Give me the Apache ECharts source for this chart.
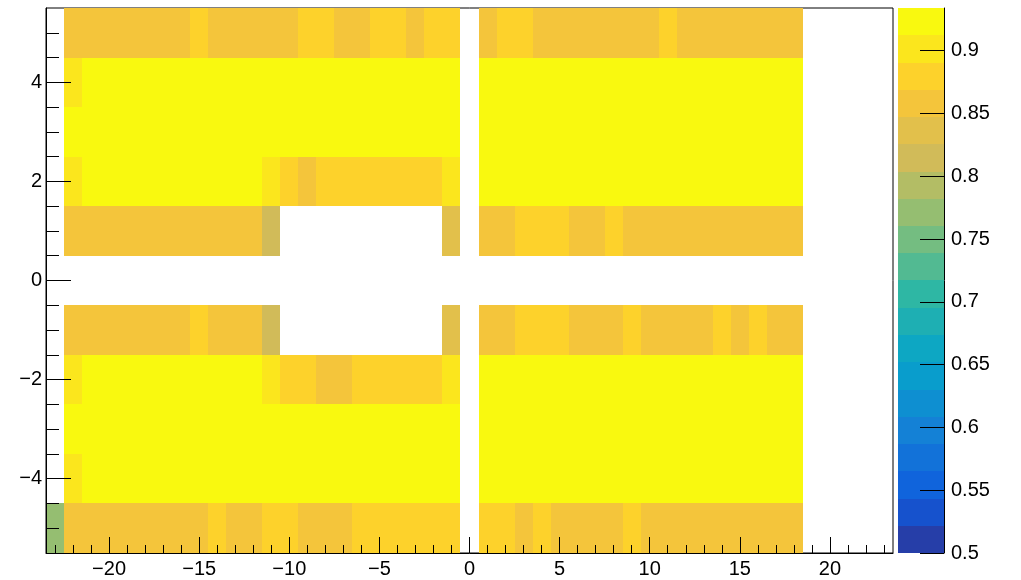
<!DOCTYPE html>
<html>
<head>
<meta charset="utf-8">
<script src="https://cdn.jsdelivr.net/npm/echarts@6/dist/echarts.min.js"></script>
<style>
html, body { margin: 0; padding: 0; background: #ffffff; }
#chart { width: 1021px; height: 580px; }
</style>
</head>
<body>
<div id="chart"></div>
<script>
// Bin contents, one array per y bin (bin width 1).
// Entry i is the bin centred on x = X_FIRST + i; null marks an empty bin.
const X_FIRST = -23;

const ROW_P5 = [
  null, 0.858, 0.858, 0.858, 0.858, 0.858, 0.858, 0.858, 0.880, 0.858, 0.858, 0.858, 0.858, 0.858,
  0.880, 0.880, 0.858, 0.858, 0.880, 0.880, 0.858, 0.880, 0.880,
  null, 0.858, 0.880, 0.880, 0.858, 0.858, 0.858, 0.858, 0.858, 0.858, 0.858, 0.880,
  0.858, 0.858, 0.858, 0.858, 0.858, 0.858, 0.858
];
const ROW_P4 = [
  null, 0.902, 0.925, 0.925, 0.925, 0.925, 0.925, 0.925, 0.925, 0.925, 0.925, 0.925, 0.925, 0.925,
  0.925, 0.925, 0.925, 0.925, 0.925, 0.925, 0.925, 0.925, 0.925,
  null, 0.925, 0.925, 0.925, 0.925, 0.925, 0.925, 0.925, 0.925, 0.925, 0.925, 0.925,
  0.925, 0.925, 0.925, 0.925, 0.925, 0.925, 0.925
];
const ROW_P3 = [
  null, 0.925, 0.925, 0.925, 0.925, 0.925, 0.925, 0.925, 0.925, 0.925, 0.925, 0.925, 0.925, 0.925,
  0.925, 0.925, 0.925, 0.925, 0.925, 0.925, 0.925, 0.925, 0.925,
  null, 0.925, 0.925, 0.925, 0.925, 0.925, 0.925, 0.925, 0.925, 0.925, 0.925, 0.925,
  0.925, 0.925, 0.925, 0.925, 0.925, 0.925, 0.925
];
const ROW_P2 = [
  null, 0.902, 0.925, 0.925, 0.925, 0.925, 0.925, 0.925, 0.925, 0.925, 0.925, 0.925, 0.902, 0.880,
  0.858, 0.880, 0.880, 0.880, 0.880, 0.880, 0.880, 0.880, 0.902,
  null, 0.925, 0.925, 0.925, 0.925, 0.925, 0.925, 0.925, 0.925, 0.925, 0.925, 0.925,
  0.925, 0.925, 0.925, 0.925, 0.925, 0.925, 0.925
];
const ROW_P1 = [
  null, 0.858, 0.858, 0.858, 0.858, 0.858, 0.858, 0.858, 0.858, 0.858, 0.858, 0.858, 0.815, null,
  null, null, null, null, null, null, null, null, 0.836,
  null, 0.858, 0.858, 0.880, 0.880, 0.880, 0.858, 0.858, 0.880, 0.858, 0.858,
  0.858, 0.858, 0.858, 0.858, 0.858, 0.858, 0.858, 0.858
];
const ROW_M1 = [
  null, 0.858, 0.858, 0.858, 0.858, 0.858, 0.858, 0.858, 0.880, 0.858, 0.858, 0.858, 0.815, null,
  null, null, null, null, null, null, null, null, 0.836,
  null, 0.858, 0.858, 0.880, 0.880, 0.880, 0.858, 0.858, 0.858, 0.880, 0.858,
  0.858, 0.858, 0.858, 0.880, 0.858, 0.880, 0.858, 0.858
];
const ROW_M2 = [
  null, 0.902, 0.925, 0.925, 0.925, 0.925, 0.925, 0.925, 0.925, 0.925, 0.925, 0.925, 0.902, 0.880,
  0.880, 0.858, 0.858, 0.880, 0.880, 0.880, 0.880, 0.880, 0.902,
  null, 0.925, 0.925, 0.925, 0.925, 0.925, 0.925, 0.925, 0.925, 0.925, 0.925, 0.925,
  0.925, 0.925, 0.925, 0.925, 0.925, 0.925, 0.925
];
const ROW_M3 = [
  null, 0.925, 0.925, 0.925, 0.925, 0.925, 0.925, 0.925, 0.925, 0.925, 0.925, 0.925, 0.925, 0.925,
  0.925, 0.925, 0.925, 0.925, 0.925, 0.925, 0.925, 0.925, 0.925,
  null, 0.925, 0.925, 0.925, 0.925, 0.925, 0.925, 0.925, 0.925, 0.925, 0.925, 0.925,
  0.925, 0.925, 0.925, 0.925, 0.925, 0.925, 0.925
];
const ROW_M4 = [
  null, 0.902, 0.925, 0.925, 0.925, 0.925, 0.925, 0.925, 0.925, 0.925, 0.925, 0.925, 0.925, 0.925,
  0.925, 0.925, 0.925, 0.925, 0.925, 0.925, 0.925, 0.925, 0.925,
  null, 0.925, 0.925, 0.925, 0.925, 0.925, 0.925, 0.925, 0.925, 0.925, 0.925, 0.925,
  0.925, 0.925, 0.925, 0.925, 0.925, 0.925, 0.925
];
const ROW_M5 = [
  0.771, 0.858, 0.858, 0.858, 0.858, 0.858, 0.858, 0.858, 0.858, 0.880, 0.858, 0.858, 0.880, 0.880,
  0.858, 0.858, 0.858, 0.880, 0.880, 0.880, 0.880, 0.880, 0.880,
  null, 0.880, 0.880, 0.858, 0.880, 0.858, 0.858, 0.858, 0.858, 0.880, 0.858,
  0.858, 0.858, 0.858, 0.858, 0.858, 0.858, 0.858, 0.858
];

// y bin centre of each row (the y = 0 row holds no entries)
const ROW_Y = [5, 4, 3, 2, 1, -1, -2, -3, -4, -5];
const ROWS = [ROW_P5, ROW_P4, ROW_P3, ROW_P2, ROW_P1, ROW_M1, ROW_M2, ROW_M3, ROW_M4, ROW_M5];

// Axis ranges and tick positions
const X_RANGE = [-23.5, 23.5];
const Y_RANGE = [-5.5, 5.5];
const Z_RANGE = [0.5, 0.934];
const X_TICKS = [-20, -15, -10, -5, 0, 5, 10, 15, 20];
const X_MINOR = [-23, -22, -21, -19, -18, -17, -16, -14, -13, -12, -11, -9, -8, -7, -6, -4, -3, -2, -1,
                 1, 2, 3, 4, 6, 7, 8, 9, 11, 12, 13, 14, 16, 17, 18, 19, 21, 22, 23];
const Y_TICKS = [-4, -2, 0, 2, 4];
const Y_MINOR = [-5, -4.5, -3.5, -3, -2.5, -1.5, -1, -0.5, 0.5, 1, 1.5, 2.5, 3, 3.5, 4.5, 5];
const Z_TICKS = [0.5, 0.55, 0.6, 0.65, 0.7, 0.75, 0.8, 0.85, 0.9];

// Colour scale: 20 equal contour bands from dark blue to yellow
const PALETTE = [
  '#263ea8', '#1652cd', '#1064dc', '#1272d9', '#1481d6', '#0e8fd1', '#099dcc', '#0da7c3',
  '#1eafb3', '#2eb7a4', '#52ba92', '#74bd81', '#95be71', '#b3bd65', '#d1bb59', '#e2c04b',
  '#f4c53b', '#fdd22b', '#fbe61d', '#f9f90f'
];
const N_LEVELS = PALETTE.length;

const cells = [];
ROWS.forEach(function (row, r) {
  row.forEach(function (v, i) {
    if (v !== null) cells.push([X_FIRST + i, ROW_Y[r], v]);
  });
});

const levels = [];
for (let i = 0; i <= N_LEVELS; i++) {
  levels.push(Z_RANGE[0] + (Z_RANGE[1] - Z_RANGE[0]) * i / N_LEVELS);
}
const bands = [];
const pieces = [];
for (let i = 0; i < N_LEVELS; i++) {
  bands.push([levels[i], levels[i + 1], i]);
  const p = { gte: levels[i], color: PALETTE[i] };
  if (i < N_LEVELS - 1) p.lt = levels[i + 1]; else p.lte = 1e9;
  pieces.push(p);
}

const FONT = 'Liberation Sans, Arial, Helvetica, sans-serif';
const minus = function (v) { return String(v).replace('-', '\u2212'); };

function cellItem(params, api) {
  const x = api.value(0), y = api.value(1);
  const a = api.coord([x - 0.5, y + 0.5]);
  const b = api.coord([x + 0.5, y - 0.5]);
  const x0 = Math.round(a[0]), y0 = Math.round(a[1]);
  const x1 = Math.round(b[0]), y1 = Math.round(b[1]);
  return {
    type: 'rect',
    shape: { x: x0, y: y0, width: x1 - x0, height: y1 - y0 },
    style: { fill: api.visual('color') }
  };
}

function bandItem(params, api) {
  const a = api.coord([0, api.value(1)]);
  const b = api.coord([1, api.value(0)]);
  const x0 = Math.round(a[0]), y0 = Math.round(a[1]);
  const x1 = Math.round(b[0]), y1 = Math.round(b[1]);
  return {
    type: 'rect',
    shape: { x: x0, y: y0, width: x1 - x0, height: y1 - y0 },
    style: { fill: PALETTE[api.value(2)] }
  };
}

const black = { color: '#000000', width: 1 };
const labelStyle = { color: '#000000', fontSize: 20, fontFamily: FONT };

const chart = echarts.init(document.getElementById('chart'), null, { renderer: 'canvas' });
chart.setOption({
  backgroundColor: '#ffffff',
  animation: false,
  grid: [
    { left: 46, top: 8, width: 847, height: 545, show: true, borderColor: '#000000', borderWidth: 1,
      backgroundColor: 'transparent', containLabel: false, outerBoundsMode: 'none' },
    { left: 898, top: 8, width: 46, height: 545, show: false, containLabel: false, outerBoundsMode: 'none' }
  ],
  visualMap: {
    type: 'piecewise', show: false, dimension: 2, seriesIndex: 0, pieces: pieces
  },
  xAxis: [
    {
      gridIndex: 0, type: 'value', min: X_RANGE[0], max: X_RANGE[1], position: 'bottom', z: 5,
      axisLine: { show: true, onZero: false, lineStyle: black },
      axisTick: { show: true, inside: true, length: 16, customValues: X_TICKS, lineStyle: black },
      axisLabel: Object.assign({ show: true, customValues: X_TICKS, formatter: minus, margin: 6 }, labelStyle),
      splitLine: { show: false }
    },
    {
      gridIndex: 0, type: 'value', min: X_RANGE[0], max: X_RANGE[1], position: 'bottom', z: 5,
      axisLine: { show: false, onZero: false },
      axisTick: { show: true, inside: true, length: 8, customValues: X_MINOR, lineStyle: black },
      axisLabel: { show: false },
      splitLine: { show: false }
    },
    { gridIndex: 1, type: 'value', min: 0, max: 1, show: false }
  ],
  yAxis: [
    {
      gridIndex: 0, type: 'value', min: Y_RANGE[0], max: Y_RANGE[1], position: 'left', z: 5,
      axisLine: { show: true, onZero: false, lineStyle: black },
      axisTick: { show: true, inside: true, length: 25, customValues: Y_TICKS, lineStyle: black },
      axisLabel: Object.assign({ show: true, customValues: Y_TICKS, formatter: minus, margin: 4 }, labelStyle),
      splitLine: { show: false }
    },
    {
      gridIndex: 0, type: 'value', min: Y_RANGE[0], max: Y_RANGE[1], position: 'left', z: 5,
      axisLine: { show: false, onZero: false },
      axisTick: { show: true, inside: true, length: 13, customValues: Y_MINOR, lineStyle: black },
      axisLabel: { show: false },
      splitLine: { show: false }
    },
    {
      gridIndex: 1, type: 'value', min: Z_RANGE[0], max: Z_RANGE[1], position: 'right', z: 5,
      axisLine: { show: true, onZero: false, lineStyle: black },
      axisTick: { show: true, inside: true, length: 24, customValues: Z_TICKS, lineStyle: black },
      axisLabel: Object.assign({ show: true, customValues: Z_TICKS, margin: 7 }, labelStyle),
      splitLine: { show: false }
    }
  ],
  series: [
    {
      type: 'custom', xAxisIndex: 0, yAxisIndex: 0, renderItem: cellItem,
      encode: { x: 0, y: 1 }, data: cells, clip: true, silent: true
    },
    {
      type: 'custom', xAxisIndex: 2, yAxisIndex: 2, renderItem: bandItem,
      encode: { y: [0, 1] }, data: bands, silent: true
    }
  ]
});
</script>
</body>
</html>
